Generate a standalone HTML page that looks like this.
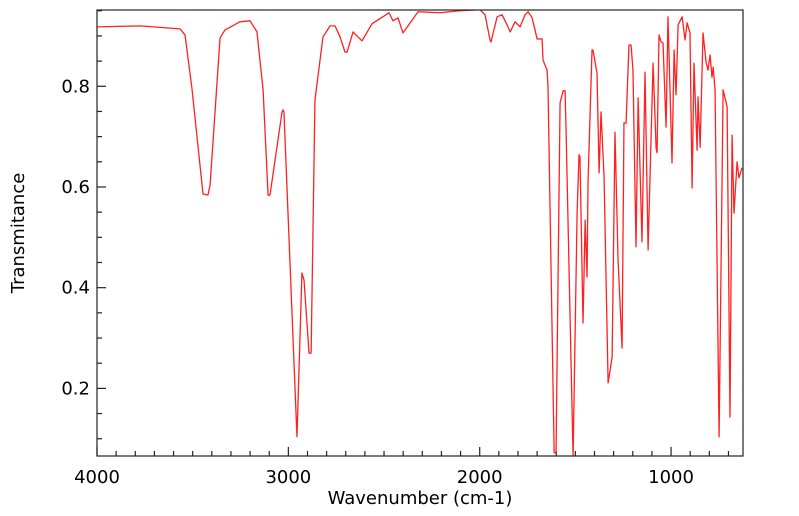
<!DOCTYPE html>
<html><head><meta charset="utf-8"><style>
html,body{margin:0;padding:0;background:#fff;}
svg{display:block;font-family:"DejaVu Sans","Liberation Sans",sans-serif;}
</style></head><body>
<svg id="chart" width="799" height="516" viewBox="0 0 799 516" xmlns="http://www.w3.org/2000/svg">
<rect x="0" y="0" width="799" height="516" fill="#fff"/>
<defs><clipPath id="plotclip"><rect x="97" y="10" width="646" height="446"/></clipPath></defs>
<g id="ticks"></g>
<path id="series" clip-path="url(#plotclip)" fill="none" stroke="#ff2020" stroke-width="1.3" stroke-linejoin="round"/>
<rect x="97" y="10" width="646" height="446" fill="none" stroke="#222" stroke-width="1.2"/>
<text x="24" y="233" transform="rotate(-90 24 233)" text-anchor="middle" font-size="18" fill="#000">Transmitance</text>
<text x="420" y="504" text-anchor="middle" font-size="18" fill="#000">Wavenumber (cm-1)</text>
</svg>
<script>
const wavenumbers=[4000,3775,3566,3540,3503,3446,3420,3409,3357,3331,3253,3200,3164,3132,3106,3096,3033,3028,3023,2955,2929,2918,2892,2881,2861,2819,2782,2756,2730,2704,2693,2662,2615,2563,2474,2453,2427,2401,2322,2207,2103,1998,1972,1946,1941,1909,1883,1857,1841,1815,1789,1763,1747,1726,1700,1674,1669,1648,1643,1611,1601,1580,1564,1554,1549,1512,1491,1481,1476,1460,1449,1439,1434,1413,1408,1387,1376,1366,1350,1329,1308,1293,1277,1256,1246,1235,1220,1209,1199,1183,1172,1152,1136,1120,1094,1078,1073,1063,1052,1042,1026,1016,995,984,974,963,942,927,916,901,890,880,864,859,848,833,817,807,796,786,780,770,749,728,707,692,681,671,655,645,629];
const transmittance=[0.918,0.920,0.914,0.902,0.793,0.586,0.584,0.604,0.896,0.912,0.928,0.930,0.908,0.793,0.584,0.584,0.749,0.753,0.749,0.104,0.429,0.415,0.270,0.270,0.773,0.898,0.920,0.920,0.898,0.868,0.868,0.908,0.890,0.924,0.946,0.930,0.936,0.906,0.948,0.946,0.950,0.952,0.942,0.892,0.888,0.938,0.942,0.922,0.908,0.928,0.918,0.942,0.948,0.936,0.894,0.894,0.852,0.832,0.799,0.072,0.072,0.767,0.791,0.791,0.719,0.064,0.548,0.664,0.660,0.330,0.534,0.421,0.608,0.872,0.872,0.826,0.628,0.749,0.620,0.211,0.262,0.709,0.455,0.280,0.727,0.727,0.882,0.882,0.832,0.481,0.777,0.491,0.828,0.475,0.846,0.677,0.668,0.902,0.888,0.886,0.719,0.938,0.648,0.872,0.783,0.922,0.938,0.892,0.926,0.906,0.598,0.846,0.673,0.779,0.679,0.906,0.848,0.832,0.862,0.818,0.838,0.793,0.104,0.793,0.759,0.143,0.703,0.548,0.650,0.618,0.638];
const xTickLabels=["4000","3000","2000","1000"];
const yTickLabels=["0.2","0.4","0.6","0.8"];
const X0=97,X1=743,Y0=10,Y1=456,WMAX=4000,WMIN=624,TMIN=0.0657,TMAX=0.9515;
function xs(w){return X0+(WMAX-w)/(WMAX-WMIN)*(X1-X0);}
function ys(t){return Y1-(t-TMIN)/(TMAX-TMIN)*(Y1-Y0);}
const NS="http://www.w3.org/2000/svg";
let d="";
for(let i=0;i<wavenumbers.length;i++){d+=(i?"L":"M")+xs(wavenumbers[i]).toFixed(2)+","+ys(transmittance[i]).toFixed(2);}
document.getElementById("series").setAttribute("d",d);
const g=document.getElementById("ticks");
function line(x1,y1,x2,y2,name){const l=document.createElementNS(NS,"line");
l.setAttribute("x1",x1);l.setAttribute("y1",y1);l.setAttribute("x2",x2);l.setAttribute("y2",y2);
l.setAttribute("stroke","#222");l.setAttribute("stroke-width","1.2");


g.appendChild(l);}
function text(x,y,s,anchor,name){const t=document.createElementNS(NS,"text");
t.setAttribute("x",x);t.setAttribute("y",y);t.setAttribute("text-anchor",anchor);t.setAttribute("font-size","18");t.setAttribute("fill","#000");t.textContent=s;


g.appendChild(t);}
for(let w=700;w<=4000;w+=100){const x=xs(w);const major=(w%1000===0);line(x,Y1,x,Y1-(major?9:5),major?"x-major-tick":"x-minor-tick");}
xTickLabels.forEach(s=>{text(xs(+s),483,s,"middle","x-tick-label");});
for(let k=2;k<=19;k++){const t=k*0.05;const y=ys(t);if(y<Y0||y>Y1)continue;const major=(k%4===0);line(X0,y,X0+(major?9:5),y,major?"y-major-tick":"y-minor-tick");}
yTickLabels.forEach(s=>{text(90,ys(+s)+6,s,"end","y-tick-label");});
</script>
</body></html>
